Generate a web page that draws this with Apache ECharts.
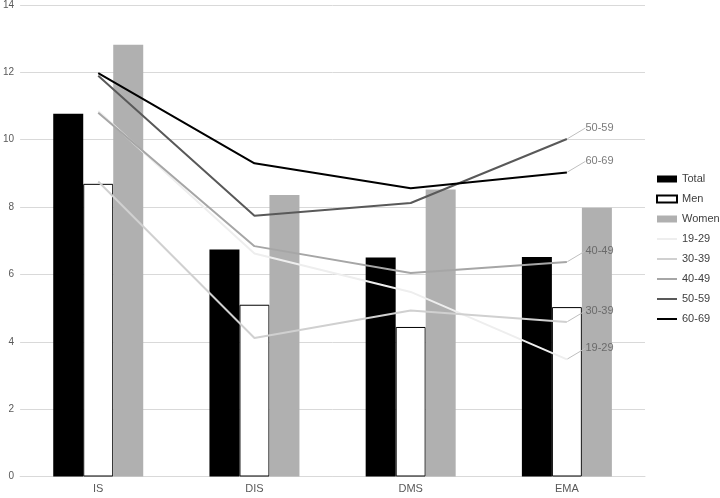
<!DOCTYPE html>
<html>
<head>
<meta charset="utf-8">
<script src="https://cdn.jsdelivr.net/npm/echarts@6/dist/echarts.min.js"></script>
<style>html,body{margin:0;padding:0;background:#fff}#c{width:720px;height:498px}</style>
</head>
<body>
<div id="c"></div>
<script>
const categories = ['IS', 'DIS', 'DMS', 'EMA'];
const total = [10.77, 6.74, 6.5, 6.52];
const men = [8.69, 5.1, 4.44, 5.03];
const women = [12.82, 8.36, 8.52, 7.98];
const age19_29 = [10.85, 6.62, 5.48, 3.48];
const age30_39 = [8.76, 4.11, 4.93, 4.59];
const age40_49 = [10.8, 6.84, 6.04, 6.37];
const age50_59 = [11.9, 7.74, 8.12, 10.02];
const age60_69 = [11.98, 9.3, 8.56, 9.03];
const yTicks = [0, 2, 4, 6, 8, 10, 12, 14];

const FONT = 'Liberation Sans';
const chart = echarts.init(document.getElementById('c'));
const LINE_ICON = 'path://M0,0L20,0L20,2L0,2Z';

function lineSeries(name, data, color) {
  return {
    name, type: 'line', data, symbol: 'none', silent: true,
    lineStyle: { color, width: 2 }, itemStyle: { color }
  };
}
function labelSeries(name, data) {
  const last = data.length - 1;
  return {
    name: name + ' label', type: 'scatter', silent: true,
    data: [[last, data[last]]],
    symbolSize: 1, itemStyle: { color: 'rgba(0,0,0,0)' },
    label: { show: true, position: 'right', distance: 0, formatter: name,
      color: '#595959', fontSize: 11, fontFamily: FONT },
    labelLayout: { dx: 18, dy: -11 },
    labelLine: { show: true, lineStyle: { color: '#bfbfbf', width: 1 } },
    z: 5
  };
}

chart.setOption({
  animation: false,
  grid: { left: 17, right: 75, top: 4, bottom: 21.5, containLabel: false },
  legend: {
    orient: 'vertical', left: 656, top: 173, padding: 0,
    itemWidth: 20, itemHeight: 7, itemGap: 8,
    textStyle: { color: '#404040', fontSize: 11, fontFamily: FONT, lineHeight: 12, overflow: 'none' },
    data: [
      { name: 'Total', icon: 'rect' },
      { name: 'Men', icon: 'rect' },
      { name: 'Women', icon: 'rect' },
      { name: '19-29', icon: LINE_ICON },
      { name: '30-39', icon: LINE_ICON },
      { name: '40-49', icon: LINE_ICON },
      { name: '50-59', icon: LINE_ICON },
      { name: '60-69', icon: LINE_ICON }
    ]
  },
  xAxis: {
    type: 'category', data: categories,
    axisLine: { lineStyle: { color: '#d9d9d9' } },
    axisTick: { show: false },
    axisLabel: { color: '#595959', fontSize: 11, fontFamily: FONT, margin: 7 }
  },
  yAxis: {
    type: 'value', min: 0, max: 14, interval: 2,
    axisLine: { show: false }, axisTick: { show: false },
    splitLine: { lineStyle: { color: '#d9d9d9' } },
    axisLabel: { color: '#595959', fontSize: 10, fontFamily: FONT, margin: 6,
      formatter: v => yTicks.includes(v) ? String(v) : '' }
  },
  series: [
    { name: 'Total', type: 'bar', data: total, barWidth: 30, barGap: '0%', itemStyle: { color: '#000000' } },
    { name: 'Men', type: 'bar', data: men, barWidth: 30, barGap: '0%', itemStyle: { color: '#ffffff', borderColor: '#000000', borderWidth: 1 } },
    { name: 'Women', type: 'bar', data: women, barWidth: 30, barGap: '0%', itemStyle: { color: '#b0b0b0' } },
    lineSeries('19-29', age19_29, '#eeeeee'),
    lineSeries('30-39', age30_39, '#d0d0d0'),
    lineSeries('40-49', age40_49, '#a6a6a6'),
    lineSeries('50-59', age50_59, '#595959'),
    lineSeries('60-69', age60_69, '#000000'),
    labelSeries('19-29', age19_29),
    labelSeries('30-39', age30_39),
    labelSeries('40-49', age40_49),
    labelSeries('50-59', age50_59),
    labelSeries('60-69', age60_69)
  ]
});
</script>
</body>
</html>
